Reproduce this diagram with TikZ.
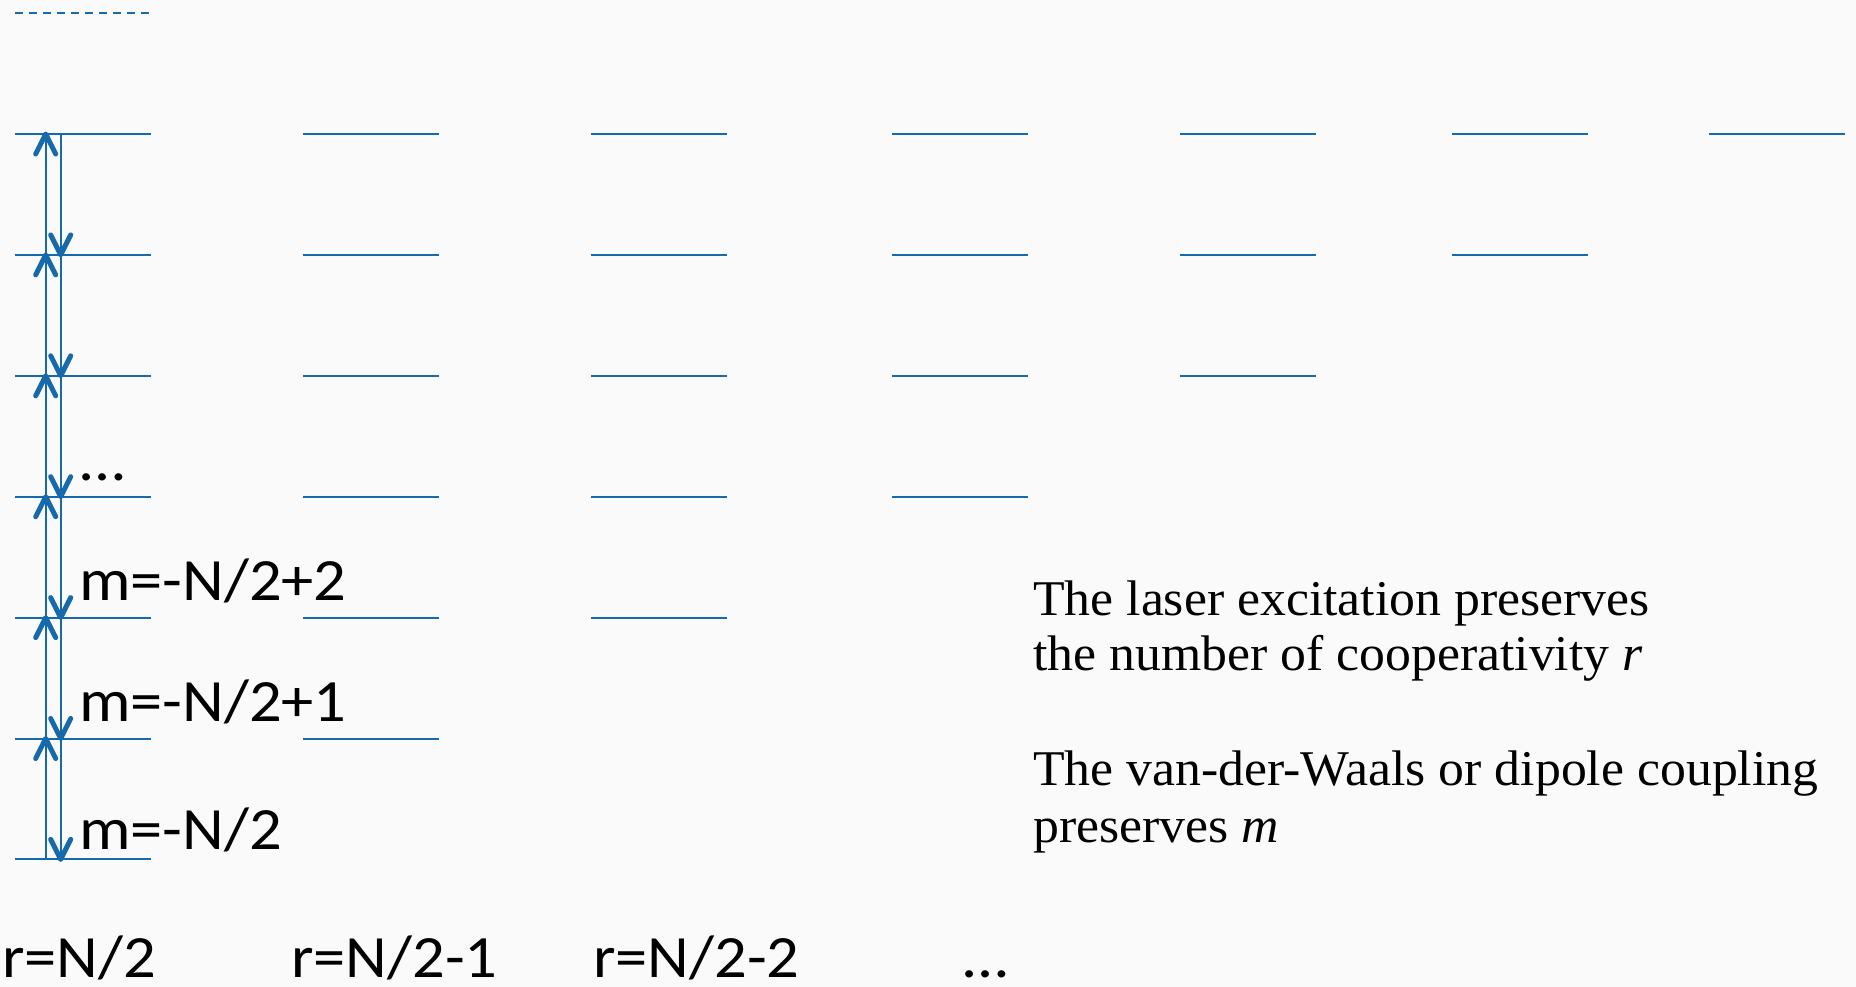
\documentclass[tikz,border=0pt]{standalone}
\usepackage{fontspec}
\setmainfont{Liberation Serif}
\newfontfamily\calfont{Carlito}
\definecolor{lvl}{RGB}{22,106,172}
\definecolor{bgc}{RGB}{250,250,250}
\begin{document}
\begin{tikzpicture}[x=1pt,y=-1pt,
  levelline/.style={draw=lvl, line width=2pt},
  dashline/.style={draw=lvl, line width=2pt, dash pattern=on 8pt off 6pt},
  trans/.style={draw=lvl, line width=2pt},
  tipline/.style={draw=lvl, line width=5pt, line cap=round, line join=round},
  mlab/.style={anchor=base west, inner sep=0pt, font=\calfont\fontsize{60}{72}\selectfont, xscale=1.075},
  txt/.style={anchor=base west, inner sep=0pt, font=\fontsize{50}{60}\selectfont, xscale=1.035}]
\fill[bgc] (0,0) rectangle (1856,987);
\useasboundingbox (0,0) rectangle (1856,987);
% dashed reference line
\coordinate (d1) at (15,13);
\coordinate (d2) at (151,13);
\draw[dashline] (d1) -- (d2);
% level coordinates (left column)
\foreach \k in {1,...,7} {
  \pgfmathsetmacro\yy{134+(\k-1)*120.9}
  \coordinate (L\k) at (0,\yy);
}
% levels
\foreach \x [count=\c] in {15,303,591,892,1180,1452,1709} {
  \pgfmathtruncatemacro\n{8-\c}
  \foreach \k in {1,...,\n} {
    \draw[levelline] ([xshift=\x pt]L\k) -- ++(136,0);
  }
}
% transitions (up: excitation, down: de-excitation)
\foreach \k [evaluate=\k as \j using int(\k+1)] in {1,...,6} {
  \draw[trans] ([xshift=45.7pt]L\j) -- ([xshift=45.7pt]L\k);
  \draw[tipline] ([xshift=45.7pt]L\k) ++(-10,20) -- ++(10,-20) -- ++(10,20);
  \draw[trans] ([xshift=60.7pt]L\k) -- ([xshift=60.7pt]L\j);
  \draw[tipline] ([xshift=60.7pt]L\j) ++(-10,-20) -- ++(10,20) -- ++(10,-20);
}
% m labels
\node[mlab] (mdots) at (80,480) {…};
\node[mlab] (m2) at (79,600) {m=-N/2+2};
\node[mlab] (m1) at (79,721) {m=-N/2+1};
\node[mlab] (m0) at (79,849) {m=-N/2};
% r labels
\node[mlab] (r0) at (2,977) {r=N/2};
\node[mlab] (r1) at (291,977) {r=N/2-1};
\node[mlab] (r2) at (593,977) {r=N/2-2};
\node[mlab] (rdots) at (963,977) {…};
% explanation
\node[txt] (t1) at (1033,615) {The laser excitation preserves};
\node[txt] (t2) at (1033,670) {the number of cooperativity \textit{r}};
\node[txt] (t3) at (1033,785) {The van-der-Waals or dipole coupling};
\node[txt] (t4) at (1033,842) {preserves \textit{m}};
\end{tikzpicture}
\end{document}
